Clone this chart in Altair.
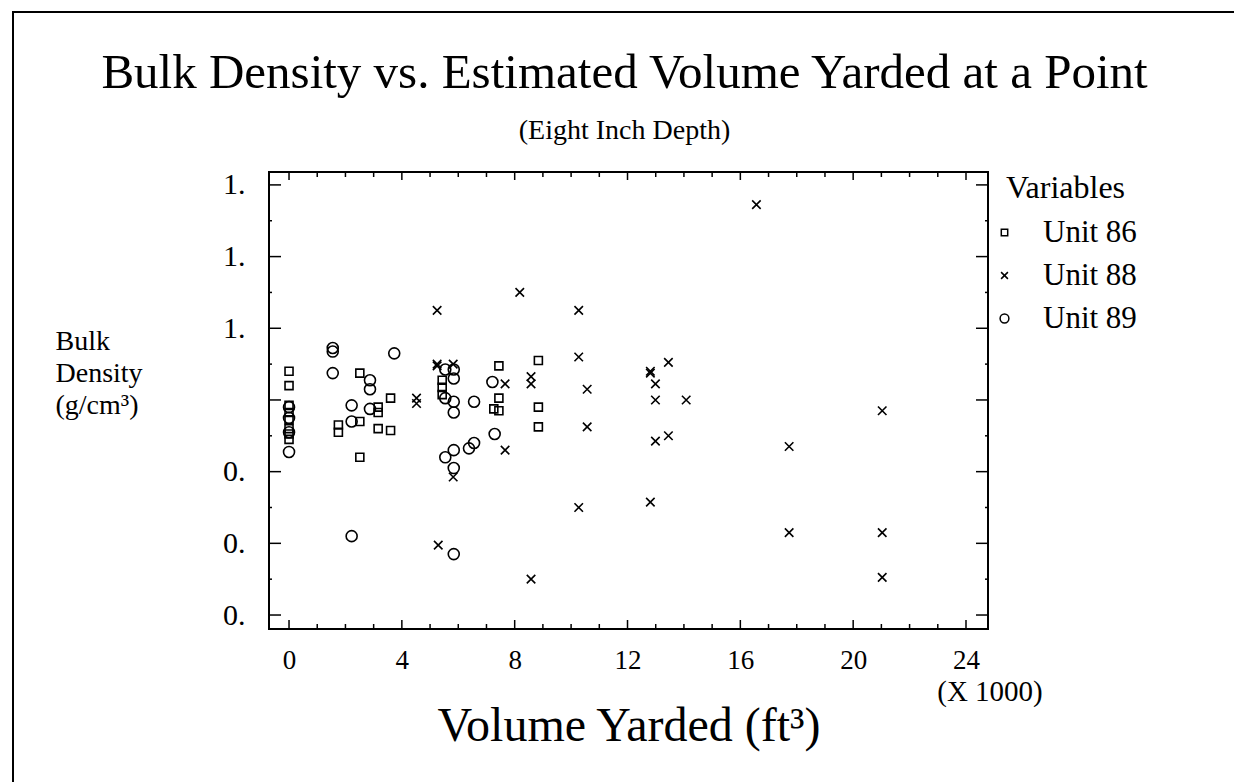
import altair as alt
import pandas as pd

FONT = "Liberation Serif"
W, H = 719, 457

units = ["Unit 86", "Unit 88", "Unit 89"]

u86_x = [0, 0, 0, 0, 0, 0, 0, 0, 1.75, 1.75, 2.51, 2.51, 2.51, 3.16, 3.16, 3.16,
         3.60, 3.60, 5.43, 5.43, 5.43, 7.44, 7.44, 7.44, 7.26, 8.84, 8.84, 8.84]
u86_y = [1.08, 1.04, 0.985, 0.965, 0.945, 0.92, 0.905, 0.89, 0.93, 0.91, 1.075, 0.94, 0.84,
         0.98, 0.965, 0.92, 1.005, 0.915, 1.055, 1.035, 1.015, 1.095, 1.005, 0.97, 0.975,
         1.11, 0.98, 0.925]

u88_x = [4.52, 4.52, 5.25, 5.25, 5.25, 5.29, 5.82, 5.82, 7.66, 7.66, 8.18, 8.58, 8.58, 8.58,
         10.27, 10.27, 10.27, 10.57, 10.57, 12.81, 12.81, 12.81, 12.99, 12.99, 12.99,
         13.45, 13.45, 14.08, 16.57, 17.73, 17.73, 21.03, 21.03, 21.03]
u88_y = [1.005, 0.99, 1.25, 1.10, 1.095, 0.595, 1.10, 0.785, 1.045, 0.86, 1.30, 1.065, 1.045, 0.50,
         1.25, 1.12, 0.70, 1.03, 0.925, 1.08, 1.075, 0.715, 1.045, 1.0, 0.885,
         1.105, 0.90, 1.0, 1.545, 0.87, 0.63, 0.97, 0.63, 0.505]

u89_x = [0, 0, 0, 0, 1.55, 1.55, 1.55, 2.22, 2.22, 2.22, 2.87, 2.87, 2.87, 3.73,
         5.54, 5.54, 5.54, 5.84, 5.84, 5.84, 5.84, 5.84, 5.84, 5.84, 6.38, 6.56, 6.56, 7.21, 7.29]
u89_y = [0.98, 0.95, 0.91, 0.855, 1.145, 1.135, 1.075, 0.985, 0.94, 0.62, 1.055, 1.03, 0.975, 1.13,
         1.085, 1.005, 0.84, 1.085, 1.06, 0.995, 0.965, 0.86, 0.81, 0.57, 0.865, 0.995, 0.88, 1.05, 0.905]

x_major = [0, 4, 8, 12, 16, 20, 24]
x_minor = [v for v in range(1, 24) if v % 4 != 0]
y_major = [0.4, 0.6, 0.8, 1.0, 1.2, 1.4, 1.6]
y_minor = [0.5, 0.7, 0.9, 1.1, 1.3, 1.5]

title_text = "Bulk Density vs. Estimated Volume Yarded at a Point"
subtitle_text = "(Eight Inch Depth)"
multiplier_text = "(X 1000)"

rows = []
for name, xs_, ys_ in [("Unit 86", u86_x, u86_y), ("Unit 88", u88_x, u88_y), ("Unit 89", u89_x, u89_y)]:
    for a, b in zip(xs_, ys_):
        rows.append({"unit": name, "volume": a, "density": b})
df = pd.DataFrame(rows)

xs = alt.Scale(domain=[-0.71, 24.78], nice=False, zero=False)
ys = alt.Scale(domain=[0.361, 1.636], nice=False, zero=False)

x_axis = alt.Axis(values=x_major, format="d", title="Volume Yarded (ft³)",
                  domain=False, ticks=False, grid=False,
                  labelFont=FONT, labelFontSize=27, labelPadding=18, labelColor="black",
                  titleFont=FONT, titleFontSize=48, titleFontWeight="normal", titleColor="black",
                  titleBaseline="alphabetic", titleY=111)
y_axis = alt.Axis(values=y_major,
                  labelExpr="datum.value < 0.95 ? '0.' : (datum.value < 1.05 ? '' : '1.')",
                  domain=False, ticks=False, grid=False,
                  labelFont=FONT, labelFontSize=30, labelPadding=24, labelColor="black",
                  title=["Bulk", "Density", "(g/cm³)"],
                  titleFont=FONT, titleFontSize=28, titleFontWeight="normal", titleColor="black",
                  titleAngle=0, titleAlign="left", titleBaseline="alphabetic",
                  titleX=-214, titleY=177, titleLineHeight=32)

sq_path = "M-0.8,-0.8L0.8,-0.8L0.8,0.8L-0.8,0.8Z"
x_path = "M-0.85,-0.85L0.85,0.85M0.85,-0.85L-0.85,0.85"
c_path = "M1.1,0A1.1,1.1,0,1,1,-1.1,0A1.1,1.1,0,1,1,1.1,0Z"

points = alt.Chart(df).mark_point(filled=False, strokeWidth=1.6, color="black", opacity=1, size=100).encode(
    x=alt.X("volume:Q", scale=xs, axis=x_axis),
    y=alt.Y("density:Q", scale=ys, axis=y_axis),
    shape=alt.Shape("unit:N", scale=alt.Scale(domain=units, range=[sq_path, x_path, c_path]),
                    legend=alt.Legend(title="Variables", orient="none", legendX=737, legendY=1,
                                      titleFont=FONT, titleFontSize=32, titleFontWeight="normal",
                                      titleColor="black", titlePadding=12,
                                      labelFont=FONT, labelFontSize=31, labelColor="black",
                                      labelOffset=23, rowPadding=11, symbolSize=64, symbolOffset=-17,
                                      symbolStrokeWidth=1.5, symbolStrokeColor="black",
                                      symbolFillColor="transparent")),
)

def xt(vals, y0, y1, w=1.5):
    return alt.Chart(pd.DataFrame({"volume": vals})).mark_rule(color="black", strokeWidth=w).encode(
        x=alt.X("volume:Q", scale=xs, axis=x_axis), y=alt.value(y0), y2=alt.value(y1))

def yt(vals, x0, x1, w=1.5):
    return alt.Chart(pd.DataFrame({"density": vals})).mark_rule(color="black", strokeWidth=w).encode(
        y=alt.Y("density:Q", scale=ys, axis=y_axis), x=alt.value(x0), x2=alt.value(x1))

ticks = [
    xt(x_major, H, H - 9), xt(x_minor, H, H - 5),
    xt(x_major, 0, 8), xt(x_minor, 0, 5),
    yt(y_major, 0, 12), yt(y_minor, 0, 3),
    yt(y_major, W, W - 12), yt(y_minor, W, W - 3),
]

mult = alt.Chart(pd.DataFrame({"volume": [24], "t": [multiplier_text]})).mark_text(
    font=FONT, fontSize=29, baseline="alphabetic", align="center", dx=24, color="black"
).encode(x=alt.X("volume:Q", scale=xs, axis=x_axis), y=alt.value(701 - 172), text="t:N")

titles = alt.Chart(pd.DataFrame({"t": [title_text, subtitle_text], "s": [49, 28],
                                 "b": [88 - 172, 139 - 172]})).mark_text(
    font=FONT, baseline="alphabetic", align="center", color="black"
).encode(x=alt.value(W / 2 - 4), y=alt.Y("b:Q", scale=None, axis=None),
         text="t:N", size=alt.Size("s:Q", scale=None, legend=None))

frame_df = pd.DataFrame({"a": [0]})
border_top = alt.Chart(frame_df).mark_rule(color="black", strokeWidth=2).encode(
    x=alt.value(12 - 269), x2=alt.value(1234 - 269), y=alt.value(12 - 172), y2=alt.value(12 - 172))
border_left = alt.Chart(frame_df).mark_rule(color="black", strokeWidth=2).encode(
    x=alt.value(13 - 269), x2=alt.value(13 - 269), y=alt.value(12 - 172), y2=alt.value(782 - 172))

chart = alt.layer(points, *ticks, mult, titles, border_top, border_left).properties(
    width=W, height=H,
    background="white",
    autosize=alt.AutoSizeParams(type="none"),
    padding={"left": 269, "top": 172, "right": 246, "bottom": 153},
).configure_view(stroke="black", strokeWidth=2)

chart.save("out.html", embed_options={"renderer": "svg", "actions": False})
